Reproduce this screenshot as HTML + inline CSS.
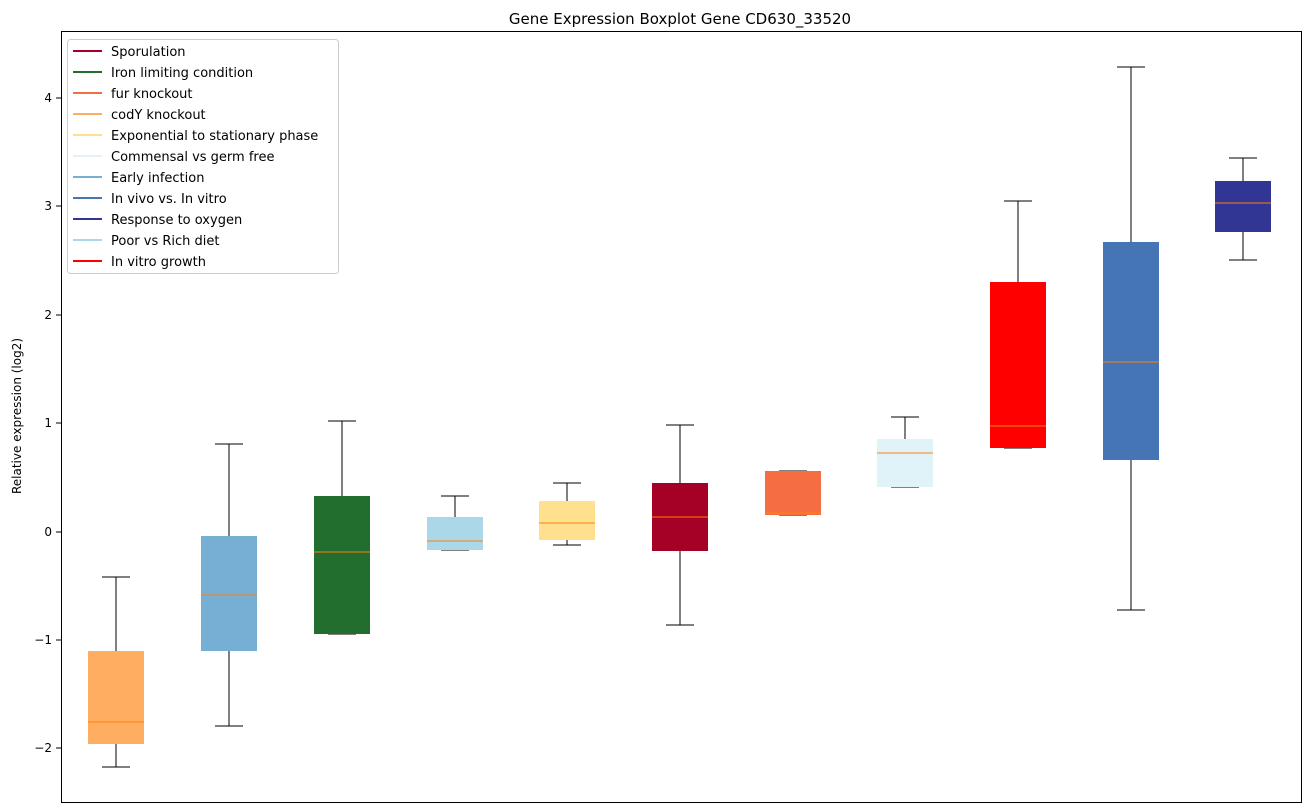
<!DOCTYPE html>
<html><head><style>body{margin:0;background:#fff}svg{display:block}text{font-family:"DejaVu Sans","Liberation Sans",sans-serif}</style></head>
<body>
<svg width="1309" height="812" xmlns="http://www.w3.org/2000/svg">
<rect width="1309" height="812" fill="#fff"/>
<text x="680" y="24" font-size="15" text-anchor="middle">Gene Expression Boxplot Gene CD630_33520</text>
<text transform="translate(21,416) rotate(-90)" font-size="12" text-anchor="middle">Relative expression (log2)</text>
<g font-size="12" text-anchor="end">
<line x1="56" x2="61" y1="98" y2="98" stroke="#000"/><text x="52" y="102">4</text>
<line x1="56" x2="61" y1="206" y2="206" stroke="#000"/><text x="52" y="210">3</text>
<line x1="56" x2="61" y1="315" y2="315" stroke="#000"/><text x="52" y="319">2</text>
<line x1="56" x2="61" y1="423" y2="423" stroke="#000"/><text x="52" y="427">1</text>
<line x1="56" x2="61" y1="532" y2="532" stroke="#000"/><text x="52" y="536">0</text>
<line x1="56" x2="61" y1="640" y2="640" stroke="#000"/><text x="52" y="644">−1</text>
<line x1="56" x2="61" y1="748" y2="748" stroke="#000"/><text x="52" y="752">−2</text>
</g>
<g stroke="#000" stroke-width="1" shape-rendering="crispEdges">
<line x1="116" x2="116" y1="577" y2="651"/><line x1="116" x2="116" y1="744" y2="767"/><line x1="102" x2="130" y1="577" y2="577"/><line x1="102" x2="130" y1="767" y2="767"/><rect x="88" y="651" width="56" height="93" fill="#ffad60" stroke="none"/>
<line x1="229" x2="229" y1="444" y2="536"/><line x1="229" x2="229" y1="651" y2="726"/><line x1="215" x2="243" y1="444" y2="444"/><line x1="215" x2="243" y1="726" y2="726"/><rect x="201" y="536" width="56" height="115" fill="#76aed4" stroke="none"/>
<line x1="342" x2="342" y1="421" y2="496"/><line x1="328" x2="356" y1="421" y2="421"/><line x1="328" x2="356" y1="634" y2="634"/><rect x="314" y="496" width="56" height="138" fill="#226e2e" stroke="none"/>
<line x1="455" x2="455" y1="496" y2="517"/><line x1="441" x2="469" y1="496" y2="496"/><line x1="441" x2="469" y1="550" y2="550"/><rect x="427" y="517" width="56" height="33" fill="#abd8e9" stroke="none"/>
<line x1="567" x2="567" y1="483" y2="501"/><line x1="567" x2="567" y1="540" y2="545"/><line x1="553" x2="581" y1="483" y2="483"/><line x1="553" x2="581" y1="545" y2="545"/><rect x="539" y="501" width="56" height="39" fill="#ffe08f" stroke="none"/>
<line x1="680" x2="680" y1="425" y2="483"/><line x1="680" x2="680" y1="551" y2="625"/><line x1="666" x2="694" y1="425" y2="425"/><line x1="666" x2="694" y1="625" y2="625"/><rect x="652" y="483" width="56" height="68" fill="#a50026" stroke="none"/>
<line x1="779" x2="807" y1="471" y2="471"/><line x1="779" x2="807" y1="515" y2="515"/><rect x="765" y="471" width="56" height="44" fill="#f46d43" stroke="none"/>
<line x1="905" x2="905" y1="417" y2="439"/><line x1="891" x2="919" y1="417" y2="417"/><line x1="891" x2="919" y1="487" y2="487"/><rect x="877" y="439" width="56" height="48" fill="#e0f3f8" stroke="none"/>
<line x1="1018" x2="1018" y1="201" y2="282"/><line x1="1004" x2="1032" y1="201" y2="201"/><line x1="1004" x2="1032" y1="448" y2="448"/><rect x="990" y="282" width="56" height="166" fill="#ff0000" stroke="none"/>
<line x1="1131" x2="1131" y1="67" y2="242"/><line x1="1131" x2="1131" y1="460" y2="610"/><line x1="1117" x2="1145" y1="67" y2="67"/><line x1="1117" x2="1145" y1="610" y2="610"/><rect x="1103" y="242" width="56" height="218" fill="#4575b4" stroke="none"/>
<line x1="1243" x2="1243" y1="158" y2="181"/><line x1="1243" x2="1243" y1="232" y2="260"/><line x1="1229" x2="1257" y1="158" y2="158"/><line x1="1229" x2="1257" y1="260" y2="260"/><rect x="1215" y="181" width="56" height="51" fill="#313695" stroke="none"/>
</g>
<g stroke="#ff7f0e" stroke-width="1" shape-rendering="crispEdges">
<line x1="88" x2="144" y1="722" y2="722"/><line x1="201" x2="257" y1="595" y2="595"/><line x1="314" x2="370" y1="552" y2="552"/><line x1="427" x2="483" y1="541" y2="541"/><line x1="539" x2="595" y1="523" y2="523"/><line x1="652" x2="708" y1="517" y2="517"/><line x1="765" x2="821" y1="513" y2="513"/><line x1="877" x2="933" y1="453" y2="453"/><line x1="990" x2="1046" y1="426" y2="426"/><line x1="1103" x2="1159" y1="362" y2="362"/><line x1="1215" x2="1271" y1="203" y2="203"/>
</g>
<rect x="61.5" y="31.5" width="1240" height="771" fill="none" stroke="#000"/>
<rect x="67.5" y="39.5" width="271" height="234" rx="3" fill="#fff" fill-opacity="0.8" stroke="#ccc"/>
<g font-size="13" stroke-width="2">
<line x1="73" x2="102" y1="51" y2="51" stroke="#a50026"/><text x="111" y="56">Sporulation</text>
<line x1="73" x2="102" y1="72" y2="72" stroke="#226e2e"/><text x="111" y="77">Iron limiting condition</text>
<line x1="73" x2="102" y1="93" y2="93" stroke="#f46d43"/><text x="111" y="98">fur knockout</text>
<line x1="73" x2="102" y1="114" y2="114" stroke="#ffad60"/><text x="111" y="119">codY knockout</text>
<line x1="73" x2="102" y1="135" y2="135" stroke="#ffe08f"/><text x="111" y="140">Exponential to stationary phase</text>
<line x1="73" x2="102" y1="156" y2="156" stroke="#e0f3f8"/><text x="111" y="161">Commensal vs germ free</text>
<line x1="73" x2="102" y1="177" y2="177" stroke="#76aed4"/><text x="111" y="182">Early infection</text>
<line x1="73" x2="102" y1="198" y2="198" stroke="#4575b4"/><text x="111" y="203">In vivo vs. In vitro</text>
<line x1="73" x2="102" y1="219" y2="219" stroke="#313695"/><text x="111" y="224">Response to oxygen</text>
<line x1="73" x2="102" y1="240" y2="240" stroke="#abd8e9"/><text x="111" y="245">Poor vs Rich diet</text>
<line x1="73" x2="102" y1="261" y2="261" stroke="#ff0000"/><text x="111" y="266">In vitro growth</text>
</g>
</svg>
</body></html>
